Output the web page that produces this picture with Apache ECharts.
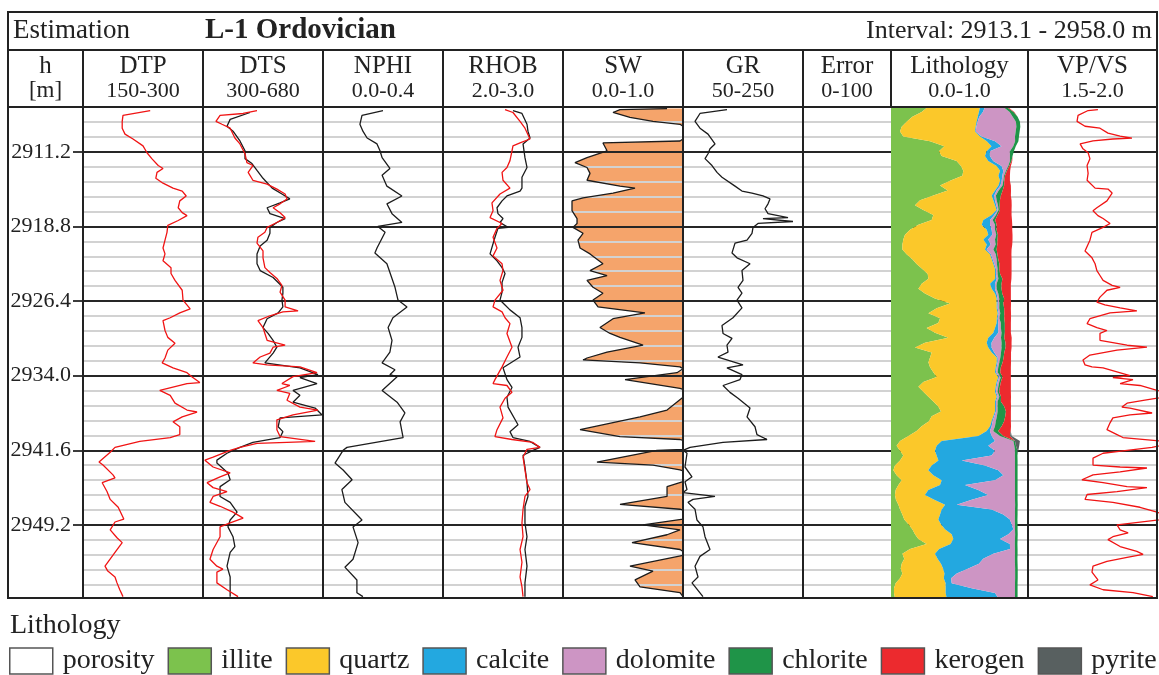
<!DOCTYPE html>
<html><head><meta charset="utf-8">
<script src="https://cdn.jsdelivr.net/npm/echarts@6/dist/echarts.min.js"></script>
<style>html,body{margin:0;padding:0;background:#fff}#c{width:1159px;height:675px}</style>
</head><body><div id="c"></div>
<script>
const FONT = '"Liberation Serif", "DejaVu Serif", serif';
const DEPTH_MIN = 2906.64, DEPTH_MAX = 2956.64, MINOR_STEP = 1.52;
const DEPTH_TICKS = [2911.2, 2918.8, 2926.4, 2934.0, 2941.6, 2949.2];

const DTP_DEPTH = [2907.0,2907.5,2908.1,2908.8,2909.4,2909.9,2910.6,2911.3,2911.9,2912.6,2912.9,2913.3,2913.9,2914.4,2914.9,2915.2,2915.7,2916.2,2916.9,2917.4,2917.7,2918.2,2918.7,2919.4,2920.2,2921.0,2921.6,2922.3,2923.0,2923.6,2924.3,2925.3,2926.3,2927.2,2927.6,2928.1,2928.4,2929.4,2930.1,2930.7,2931.4,2932.2,2932.7,2933.2,2933.7,2934.1,2934.7,2934.8,2935.5,2936.0,2936.8,2937.5,2937.7,2938.2,2938.7,2939.2,2940.0,2940.3,2940.7,2941.3,2941.8,2942.8,2943.1,2944.1,2944.4,2944.9,2945.8,2946.6,2947.4,2948.6,2948.9,2949.7,2950.5,2951.0,2952.0,2953.4,2953.9,2954.5,2955.1,2955.8,2956.5];
const DTP = [234,200,199,199,202.5,212.5,225,230,236,244,250,242.5,241,250,262.5,274,279,271,269,274,280,269,256,255,252.5,250,252.5,250,260,260,265,274,275,284,271,259,250,252.5,256,265,256,252.5,249,262.5,280,286,296,280,246,259,265,280,292.5,274,262.5,271,271,259,221,190,184,170,175,187.5,190,174,180,184,194,201,190,184,192.5,199,190,177.5,181,190,192.5,196,200];

const DTS_RED_DEPTH = [2907.0,2907.3,2907.5,2908.1,2908.4,2908.8,2909.8,2910.4,2911.4,2912.3,2912.6,2913.3,2914.1,2914.5,2915.0,2915.5,2916.0,2916.5,2916.9,2917.4,2917.9,2918.4,2918.9,2919.4,2919.9,2920.5,2921.3,2922.0,2923.0,2923.5,2924.1,2924.8,2925.5,2926.3,2927.0,2927.4,2927.5,2927.9,2928.4,2929.1,2929.7,2930.4,2930.9,2931.1,2931.7,2932.1,2932.7,2932.9,2933.1,2933.7,2934.1,2934.8,2935.0,2935.5,2935.8,2936.5,2937.2,2937.5,2938.0,2938.5,2939.5,2940.2,2940.7,2940.8,2940.9,2941.3,2941.6,2942.3,2942.6,2943.3,2943.9,2944.3,2944.9,2945.4,2945.8,2946.3,2946.9,2947.3,2947.9,2948.5,2949.0,2949.4,2950.4,2951.7,2952.7,2953.4,2953.7,2954.0,2955.1,2955.8,2956.5];
const DTS_RED = [471,427,354,341,360,386,401,417,433,439,458,443,458,503,534,560,566,544,522,544,560,534,503,496,474,471,490,490,496,512,534,550,544,560,560,601,553,512,474,490,496,503,560,522,512,481,458,503,607,661,585,550,575,534,575,566,607,664,585,534,534,544,655,566,471,417,386,332,306,332,386,354,313,332,376,332,322,354,395,427,386,354,354,332,322,344,363,344,344,376,411];
const DTS_BLK_DEPTH = [2907.2,2907.9,2908.6,2909.1,2910.1,2911.1,2911.9,2912.4,2913.1,2913.9,2914.9,2915.5,2916.0,2916.4,2916.9,2917.5,2918.0,2918.4,2918.9,2919.5,2920.2,2920.8,2921.6,2922.6,2923.3,2924.0,2925.0,2925.6,2926.3,2927.0,2927.6,2928.2,2929.1,2929.7,2930.4,2931.1,2931.7,2932.7,2933.2,2933.9,2934.2,2934.8,2935.5,2936.0,2936.7,2937.3,2938.0,2938.3,2939.2,2939.7,2940.3,2940.8,2941.3,2941.9,2942.6,2942.9,2943.9,2944.6,2945.3,2946.3,2946.9,2947.9,2948.7,2949.4,2950.4,2951.4,2952.0,2953.4,2954.5,2955.8,2956.5];
const DTS_BLK = [449,386,376,395,417,433,433,455,471,490,519,550,575,544,503,512,560,534,512,512,503,481,471,471,481,522,553,553,550,553,538,503,490,506,522,534,522,496,607,664,607,661,585,607,585,655,677,544,538,553,544,458,417,376,344,344,379,386,354,354,386,408,386,379,395,401,386,376,386,386,386];

const NPHI_DEPTH = [2907.0,2907.5,2908.4,2909.1,2909.8,2910.4,2911.1,2911.8,2912.9,2913.6,2914.7,2915.7,2916.5,2917.5,2918.4,2918.8,2919.4,2921.0,2921.5,2922.6,2925.0,2926.3,2927.0,2928.1,2929.1,2930.4,2931.6,2932.7,2933.4,2933.9,2934.1,2935.5,2936.7,2937.8,2938.7,2940.3,2941.3,2941.6,2942.9,2943.6,2944.6,2945.6,2946.9,2948.7,2949.4,2951.0,2952.7,2953.5,2954.8,2956.1,2956.5];
const NPHI = [0.200,0.130,0.123,0.133,0.147,0.180,0.190,0.197,0.223,0.197,0.213,0.263,0.213,0.230,0.263,0.183,0.207,0.180,0.173,0.213,0.240,0.250,0.280,0.233,0.217,0.230,0.223,0.197,0.240,0.223,0.247,0.197,0.247,0.273,0.257,0.267,0.080,0.067,0.040,0.067,0.097,0.063,0.073,0.130,0.100,0.117,0.100,0.073,0.113,0.113,0.133];

const RHOB_RED_DEPTH = [2906.9,2907.2,2908.1,2908.8,2909.9,2910.3,2910.6,2911.1,2912.1,2912.8,2913.3,2914.1,2914.9,2915.5,2916.4,2917.2,2917.9,2918.5,2919.0,2919.9,2921.0,2921.8,2922.6,2923.3,2924.3,2925.3,2926.3,2927.0,2927.5,2928.1,2928.7,2929.7,2931.1,2932.1,2933.1,2934.4,2934.8,2935.0,2935.7,2936.3,2937.2,2938.3,2939.5,2940.2,2940.5,2940.8,2941.3,2941.5,2942.3,2943.6,2944.9,2945.6,2946.3,2947.6,2949.0,2950.4,2951.7,2953.0,2954.5,2955.5,2956.5];
const RHOB_RED = [2.517,2.583,2.642,2.683,2.725,2.642,2.583,2.575,2.558,2.533,2.492,2.500,2.558,2.475,2.408,2.417,2.392,2.492,2.450,2.417,2.450,2.417,2.492,2.500,2.475,2.500,2.433,2.417,2.492,2.517,2.558,2.533,2.575,2.533,2.492,2.433,2.417,2.533,2.575,2.517,2.475,2.500,2.450,2.433,2.575,2.750,2.808,2.700,2.667,2.683,2.700,2.725,2.683,2.667,2.658,2.667,2.642,2.658,2.642,2.658,2.667];
const RHOB_BLK_DEPTH = [2907.0,2907.3,2908.4,2909.1,2909.8,2910.4,2911.8,2912.8,2913.8,2914.9,2915.2,2915.7,2916.2,2916.9,2917.5,2918.0,2918.4,2918.9,2919.0,2919.9,2921.6,2922.3,2923.0,2923.6,2924.5,2925.5,2926.3,2926.8,2927.3,2928.1,2929.1,2930.1,2931.1,2932.1,2933.2,2934.4,2935.2,2936.2,2937.2,2939.0,2939.7,2940.3,2940.7,2941.3,2941.6,2942.1,2943.3,2944.9,2946.3,2947.3,2949.0,2950.4,2951.7,2953.4,2955.1,2956.5];
const RHOB_BLK = [2.583,2.658,2.700,2.708,2.725,2.667,2.683,2.700,2.658,2.658,2.642,2.533,2.492,2.450,2.458,2.500,2.475,2.542,2.458,2.433,2.392,2.450,2.492,2.517,2.492,2.492,2.475,2.517,2.558,2.642,2.658,2.658,2.625,2.642,2.500,2.533,2.575,2.533,2.542,2.625,2.558,2.583,2.725,2.808,2.750,2.667,2.683,2.700,2.708,2.683,2.683,2.700,2.683,2.700,2.683,2.683];

const SW_DEPTH = [2906.8,2906.9,2907.2,2907.7,2908.1,2908.4,2908.6,2909.9,2910.1,2910.3,2911.1,2911.8,2912.3,2912.8,2913.4,2914.1,2914.7,2914.9,2915.4,2915.9,2916.2,2917.2,2918.0,2918.5,2918.9,2919.5,2920.2,2921.0,2921.6,2922.6,2923.3,2923.8,2924.3,2925.0,2925.6,2926.3,2927.0,2927.6,2928.2,2929.1,2929.7,2930.1,2930.9,2931.6,2932.2,2932.4,2932.7,2933.1,2933.3,2933.5,2933.7,2934.4,2935.3,2935.4,2936.2,2937.5,2938.2,2939.5,2940.2,2940.5,2940.6,2941.5,2941.6,2942.8,2943.1,2943.6,2943.7,2944.8,2945.3,2946.3,2947.1,2947.6,2947.7,2948.6,2949.2,2949.7,2950.2,2951.0,2951.7,2951.9,2952.3,2953.4,2953.9,2954.8,2955.5,2956.1,2956.5];
const SW = [0.867,0.475,0.417,0.558,0.750,0.975,1.0,1.0,0.975,0.333,0.367,0.200,0.100,0.200,0.225,0.200,0.475,0.600,0.417,0.167,0.075,0.075,0.117,0.117,0.083,0.167,0.125,0.142,0.225,0.333,0.225,0.367,0.200,0.250,0.333,0.250,0.292,0.683,0.417,0.308,0.392,0.475,0.667,0.367,0.200,0.167,0.642,0.975,1.0,1.0,0.950,0.517,0.975,1.0,1.0,0.867,0.642,0.142,0.475,0.975,1.0,1.0,0.783,0.283,0.750,0.975,1.0,1.0,0.867,0.867,0.475,0.975,1.0,1.0,0.667,0.975,0.867,0.575,0.975,1.0,1.0,0.558,0.750,0.600,0.642,0.975,1.0];

const GR_DEPTH = [2906.9,2907.3,2908.1,2908.8,2909.4,2910.4,2910.9,2911.4,2911.9,2912.6,2913.3,2913.8,2914.7,2915.2,2915.4,2915.7,2916.0,2916.5,2917.0,2917.5,2917.9,2918.0,2918.3,2918.5,2918.9,2919.5,2920.2,2920.5,2921.5,2922.0,2922.6,2923.3,2924.3,2925.0,2925.6,2926.3,2927.1,2928.1,2928.9,2929.7,2930.2,2930.9,2931.6,2932.1,2932.9,2933.2,2933.9,2934.4,2935.0,2935.7,2936.3,2937.3,2938.2,2939.2,2940.0,2940.5,2940.8,2941.3,2941.6,2941.9,2943.3,2944.3,2944.8,2945.6,2945.9,2946.3,2946.6,2946.9,2947.6,2948.7,2949.4,2950.4,2951.7,2952.4,2953.4,2954.5,2955.1,2956.5];
const GR = [123.3,78.3,70,78.3,91.7,103.3,95,91.7,86.7,98.3,106.7,115,136.7,148.3,165,183.3,195,191.7,186.7,191.7,225,183.3,233.3,175,166.7,165,156.7,136.7,131.7,140,161.7,148.3,150,141.7,148.3,140,148.3,133.3,115,116.7,131.7,123.3,125,108.3,150,123.3,148.3,145,116.7,128.3,141.7,161.7,156.7,170,173.3,190,116.7,61.7,50,56.7,53.3,65,53.3,56.7,50,103.3,66.7,58.3,70,73.3,83.3,86.7,95,78.3,70,75,65,83.3];

const VPVS_DEPTH = [2906.9,2907.0,2907.5,2908.1,2908.6,2908.8,2909.3,2909.6,2909.8,2909.9,
2910.1,2910.4,2910.9,2911.3,2911.9,2912.6,2913.4,2914.1,2914.9,2915.0,
2915.4,2916.2,2916.9,2917.2,2917.7,2918.0,2918.5,2918.9,2919.4,2920.2,
2921.3,2922.0,2922.6,2923.3,2923.8,2924.3,2924.8,2925.0,2925.3,2926.0,
2926.5,2926.8,2927.1,2927.4,2927.6,2928.2,2928.7,2929.1,2929.4,2929.7,
2930.4,2930.9,2931.1,2931.4,2931.9,2932.4,2932.9,2933.1,2933.2,2934.0,
2934.2,2934.4,2934.8,2935.0,2935.5,2936.0,2936.5,2936.8,2937.2,2937.3,
2937.8,2938.0,2938.3,2938.8,2939.5,2940.0,2940.3,2940.8,2941.3,2941.6,
2941.9,2942.4,2943.1,2943.3,2943.4,2943.8,2944.1,2944.6,2944.9,2945.3,
2945.4,2945.8,2946.1,2946.6,2946.9,2947.4,2947.9,2948.5,2949.2,2949.7,
2950.0,2950.4,2950.7,2951.4,2951.9,2952.2,2952.5,2952.9,2953.4,2954.0,
2954.8,2955.3,2955.5,2955.8,2956.1,2956.5];
const VPVS = [1.771,1.733,1.694,1.690,1.721,1.779,1.810,1.857,1.903,1.829,
1.752,1.702,1.713,1.733,1.740,1.729,1.733,1.729,1.760,1.810,
1.826,1.806,1.767,1.752,1.771,1.791,1.818,1.791,1.748,1.740,
1.721,1.748,1.760,1.767,1.779,1.791,1.826,1.857,1.806,1.779,
1.767,1.798,1.857,1.922,1.818,1.740,1.729,1.767,1.806,1.779,
1.779,1.884,1.961,1.845,1.740,1.713,1.721,1.748,1.791,1.895,
1.829,1.907,1.857,1.934,2.000,2.070,1.953,1.884,1.864,1.895,
1.981,1.895,1.829,1.818,1.806,1.845,1.868,2.070,1.981,1.884,
1.791,1.752,1.752,1.857,1.961,1.857,1.752,1.709,1.791,1.884,
1.961,1.845,1.729,1.721,1.829,1.934,2.000,2.070,1.845,1.857,
1.888,1.829,1.810,1.857,1.922,1.946,1.884,1.806,1.752,1.748,
1.771,1.740,1.733,1.791,1.907,1.984];

// Lithology volume fractions, sampled every 0.5 m from the top of the interval
const LITH_DEPTH = Array.from({length: 101}, (_, k) => +(DEPTH_MIN + 0.5 * k).toFixed(2));
const ILLITE = [0.268,0.224,0.156,0.114,0.078,0.066,0.090,0.285,0.389,0.350,0.370,
0.479,0.511,0.528,0.521,0.431,0.358,0.414,0.309,0.212,0.175,
0.236,0.309,0.297,0.200,0.139,0.102,0.090,0.083,0.083,0.114,
0.156,0.187,0.229,0.268,0.273,0.224,0.200,0.248,0.321,0.431,
0.333,0.273,0.358,0.345,0.260,0.321,0.418,0.248,0.175,0.297,
0.285,0.273,0.285,0.309,0.333,0.236,0.200,0.236,0.273,0.309,
0.345,0.365,0.297,0.277,0.224,0.187,0.127,0.066,0.041,0.066,
0.090,0.066,0.029,0.017,0.041,0.078,0.054,0.034,0.029,0.036,
0.054,0.066,0.083,0.097,0.127,0.156,0.175,0.200,0.260,0.139,
0.083,0.097,0.078,0.071,0.083,0.066,0.034,0.022,0.022,0.029];
const QUARTZ = [0.382,0.418,0.477,0.511,0.540,0.547,0.560,0.414,0.345,0.348,0.316,
0.231,0.260,0.268,0.263,0.365,0.426,0.345,0.426,0.535,0.584,
0.535,0.426,0.377,0.462,0.560,0.608,0.584,0.616,0.603,0.608,
0.579,0.560,0.530,0.491,0.487,0.499,0.535,0.511,0.450,0.341,
0.438,0.506,0.414,0.426,0.499,0.426,0.292,0.450,0.535,0.438,
0.487,0.499,0.479,0.450,0.450,0.535,0.564,0.523,0.499,0.450,
0.414,0.394,0.450,0.457,0.499,0.511,0.511,0.304,0.292,0.255,
0.243,0.280,0.268,0.255,0.268,0.292,0.304,0.238,0.219,0.280,
0.341,0.304,0.275,0.248,0.238,0.238,0.268,0.255,0.175,0.212,
0.238,0.243,0.287,0.309,0.307,0.319,0.365,0.377,0.377,0.377];
const CALCITE = [0.036,0.029,0.012,0.007,0.005,0.005,0.012,0.061,0.073,0.024,0.036,
0.036,0.036,0.024,0.029,0.012,0.015,0.012,0.019,0.012,0.010,
0.007,0.019,0.049,0.061,0.036,0.029,0.036,0.029,0.012,0.007,
0.007,0.007,0.007,0.007,0.012,0.036,0.024,0.012,0.007,0.007,
0.007,0.007,0.007,0.012,0.024,0.036,0.044,0.036,0.024,0.019,
0.007,0.007,0.007,0.007,0.007,0.007,0.007,0.007,0.007,0.007,
0.007,0.007,0.007,0.007,0.012,0.024,0.097,0.389,0.377,0.438,
0.401,0.170,0.389,0.511,0.511,0.389,0.182,0.365,0.462,0.273,
0.085,0.365,0.462,0.523,0.516,0.499,0.414,0.341,0.433,0.518,
0.426,0.333,0.277,0.185,0.090,0.054,0.044,0.190,0.360,0.377];
const DOLOMITE = [0.134,0.195,0.243,0.280,0.292,0.292,0.243,0.146,0.085,0.146,0.146,
0.122,0.049,0.019,0.012,0.012,0.015,0.015,0.012,0.012,0.012,
0.007,0.012,0.019,0.036,0.024,0.029,0.049,0.036,0.049,0.036,
0.029,0.019,0.012,0.012,0.012,0.012,0.012,0.012,0.012,0.012,
0.012,0.012,0.012,0.019,0.019,0.024,0.049,0.073,0.073,0.049,
0.019,0.012,0.012,0.012,0.012,0.012,0.012,0.012,0.012,0.012,
0.012,0.012,0.019,0.024,0.024,0.024,0.061,0.134,0.190,0.146,
0.170,0.389,0.219,0.122,0.085,0.146,0.365,0.268,0.195,0.316,
0.426,0.170,0.085,0.036,0.024,0.012,0.049,0.109,0.036,0.036,
0.158,0.231,0.263,0.341,0.426,0.467,0.462,0.316,0.146,0.122];
const CHLORITE = [0.024,0.029,0.036,0.029,0.029,0.029,0.029,0.024,0.019,0.029,0.019,
0.012,0.007,0.007,0.007,0.007,0.012,0.029,0.036,0.024,0.012,
0.010,0.012,0.019,0.012,0.012,0.012,0.019,0.012,0.024,0.012,
0.012,0.019,0.012,0.019,0.029,0.036,0.036,0.029,0.036,0.029,
0.036,0.029,0.036,0.029,0.029,0.024,0.024,0.029,0.029,0.024,
0.024,0.024,0.019,0.019,0.012,0.012,0.012,0.012,0.012,0.024,
0.049,0.061,0.061,0.061,0.049,0.036,0.024,0.012,0.012,0.019,
0.019,0.019,0.019,0.019,0.019,0.019,0.019,0.019,0.019,0.019,
0.019,0.019,0.019,0.019,0.019,0.019,0.019,0.019,0.019,0.019,
0.019,0.019,0.019,0.019,0.019,0.019,0.019,0.019,0.019,0.019];
const KEROGEN = [0.010,0.005,0,0,0,0,0,0,0,0,0,
0.005,0.012,0.024,0.036,0.041,0.049,0.061,0.073,0.085,0.088,
0.085,0.102,0.122,0.114,0.114,0.107,0.109,0.109,0.109,0.102,
0.097,0.088,0.090,0.083,0.066,0.068,0.068,0.063,0.049,0.056,
0.049,0.049,0.049,0.044,0.044,0.044,0.054,0.044,0.044,0.049,
0.054,0.061,0.073,0.078,0.061,0.073,0.080,0.085,0.073,0.073,
0.049,0.036,0.041,0.049,0.068,0.092,0.049,0,0,0,
0,0,0,0,0,0,0,0,0,0,
0,0,0,0,0,0,0,0,0,0,
0,0,0,0,0,0,0,0,0,0];
const PYRITE = [0,0,0,0,0,0,0,0,0,0,0,
0,0,0,0,0,0,0,0,0,0,
0,0,0,0,0,0,0,0,0,0,
0,0,0,0,0,0,0,0,0,0,
0,0,0,0,0,0,0,0,0,0,
0,0,0,0,0,0,0,0,0,0,
0,0,0,0,0,0,0.012,0.036,0.024,0.005,
0,0,0,0,0,0,0,0,0,0,
0,0,0,0,0,0,0,0,0,0,
0,0,0,0,0,0,0,0,0,0];

const LITH_NAMES = ['porosity','illite','quartz','calcite','dolomite','chlorite','kerogen','pyrite'];
const LITH_COLORS = {porosity:'#ffffff', illite:'#7cc24d', quartz:'#fbc82a', calcite:'#23a8e0', dolomite:'#cd95c4', chlorite:'#1f9448', kerogen:'#ec2a2e', pyrite:'#586060'};
const LITH_VALUES = {illite:ILLITE, quartz:QUARTZ, calcite:CALCITE, dolomite:DOLOMITE, chlorite:CHLORITE, kerogen:KEROGEN, pyrite:PYRITE};

const TRACKS = [
  {name:'DTP', range:'150-300', left:83, width:120, min:150, max:300},
  {name:'DTS', range:'300-680', left:203, width:120, min:300, max:680},
  {name:'NPHI', range:'0.0-0.4', left:323, width:120, min:0, max:0.4},
  {name:'RHOB', range:'2.0-3.0', left:443, width:120, min:2, max:3},
  {name:'SW', range:'0.0-1.0', left:563, width:120, min:0, max:1},
  {name:'GR', range:'50-250', left:683, width:120, min:50, max:250},
  {name:'Error', range:'0-100', left:803, width:88, min:0, max:100},
  {name:'Lithology', range:'0.0-1.0', left:891, width:137, min:0, max:1},
  {name:'VP/VS', range:'1.5-2.0', left:1028, width:129, min:1.5, max:2}
];
const TOP = 107, BOTTOM = 598;
const MINOR = '#d2d2d2', MAJOR = '#262626', INK = '#222';
const RED = '#f01414', BLACK = '#1c1c1c', SW_FILL = '#f5a46b';
// tick 0 is DEPTH_MIN; every 5th tick from index 3 (2911.2) is a labelled depth
const GRID_COLORS = [MINOR, MINOR, MINOR, MAJOR, MINOR];

const grids = TRACKS.map(t => ({left: t.left, top: TOP, width: t.width, height: BOTTOM - TOP}));
const xAxes = TRACKS.map((t, i) => ({type:'value', gridIndex:i, min:t.min, max:t.max, show:false}));
const yAxes = TRACKS.map((t, i) => ({
  type:'value', gridIndex:i, inverse:true, min:DEPTH_MIN, max:DEPTH_MAX, interval:MINOR_STEP,
  axisLine:{show:false}, axisTick:{show:false}, axisLabel:{show:false},
  splitLine:{show:true, lineStyle:{color:GRID_COLORS, width:1.8}},
  z: t.name === 'SW' ? 2 : 0
}));
// depth labels (index 9)
yAxes.push({
  type:'value', gridIndex:0, position:'left', inverse:true, min:DEPTH_MIN, max:DEPTH_MAX,
  axisLine:{show:false},
  axisTick:{show:true, length:10, customValues:DEPTH_TICKS, lineStyle:{color:MAJOR, width:1.8}},
  axisLabel:{show:true, customValues:DEPTH_TICKS, formatter:v => Number(v).toFixed(1), margin:12,
    fontFamily:FONT, fontSize:22, color:INK},
  splitLine:{show:false}
});
// lithology category axis (index 10)
yAxes.push({type:'category', gridIndex:7, inverse:true, boundaryGap:false, data:LITH_DEPTH.map(String), show:false});

function curve(idx, depth, vals, color, name) {
  return {type:'line', name, xAxisIndex:idx, yAxisIndex:idx, data:depth.map((d, i) => [vals[i], d]),
    symbol:'none', showSymbol:false, clip:true, silent:true, z:4,
    lineStyle:{color, width:1.3}, itemStyle:{color}};
}

const series = [];
series.push(curve(0, DTP_DEPTH, DTP, RED, 'DTP'));
series.push(curve(1, DTS_BLK_DEPTH, DTS_BLK, BLACK, 'DTS estimated'));
series.push(curve(1, DTS_RED_DEPTH, DTS_RED, RED, 'DTS'));
series.push(curve(2, NPHI_DEPTH, NPHI, BLACK, 'NPHI'));
series.push(curve(3, RHOB_BLK_DEPTH, RHOB_BLK, BLACK, 'RHOB estimated'));
series.push(curve(3, RHOB_RED_DEPTH, RHOB_RED, RED, 'RHOB'));
series.push({
  type:'custom', name:'SW fill', xAxisIndex:4, yAxisIndex:4, clip:true, silent:true, z:1,
  data:[[0.5, 2930]],
  renderItem: function (params, api) {
    const pts = SW_DEPTH.map((d, i) => api.coord([SW[i], d]));
    pts.push(api.coord([1, SW_DEPTH[SW_DEPTH.length - 1]]));
    pts.push(api.coord([1, SW_DEPTH[0]]));
    return {type:'polygon', shape:{points:pts}, style:{fill:SW_FILL}};
  }
});
series.push(curve(4, SW_DEPTH, SW, BLACK, 'SW'));
series.push(curve(5, GR_DEPTH, GR, BLACK, 'GR'));
series.push(curve(8, VPVS_DEPTH, VPVS, RED, 'VP/VS'));
series.push({type:'line', name:'porosity', xAxisIndex:7, yAxisIndex:10, data:[], symbol:'none',
  itemStyle:{color:LITH_COLORS.porosity}, lineStyle:{color:LITH_COLORS.porosity}});
LITH_NAMES.slice(1).forEach(n => {
  series.push({type:'line', name:n, xAxisIndex:7, yAxisIndex:10, stack:'lith', data:LITH_VALUES[n],
    symbol:'none', showSymbol:false, silent:true, z:2,
    lineStyle:{width:0, color:LITH_COLORS[n]}, itemStyle:{color:LITH_COLORS[n]},
    areaStyle:{color:LITH_COLORS[n], opacity:1}});
});

// table frame and texts
const g = [];
function hline(x1, x2, y) { return {type:'line', z:100, silent:true, shape:{x1, y1:y, x2, y2:y}, style:{stroke:INK, lineWidth:2}}; }
function vline(x, y1, y2) { return {type:'line', z:100, silent:true, shape:{x1:x, y1, x2:x, y2}, style:{stroke:INK, lineWidth:2}}; }
function txt(s, x, y, size, align, bold) {
  return {type:'text', z:101, silent:true, style:{text:s, x, y, font:(bold ? 'bold ' : '') + size + 'px ' + FONT,
    fill:INK, textAlign:align, textVerticalAlign:'middle', align:align, verticalAlign:'middle'}};
}
g.push({type:'rect', z:100, silent:true, shape:{x:8, y:12, width:1149, height:BOTTOM - 12}, style:{fill:'none', stroke:INK, lineWidth:2}});
g.push(hline(8, 1157, 50));
g.push(hline(8, 1157, TOP));
[83,203,323,443,563,683,803,1028].forEach(x => g.push(vline(x, 50, BOTTOM)));
g.push(vline(891, 50, TOP));
g.push(txt('Estimation', 13, 31, 27, 'left'));
g.push(txt('L-1 Ordovician', 205, 31, 29, 'left', true));
g.push(txt('Interval: 2913.1 - 2958.0 m', 1152, 31, 26, 'right'));
g.push(txt('h', 45.5, 66, 25, 'center'));
g.push(txt('[m]', 45.5, 91, 23, 'center'));
TRACKS.forEach(t => {
  g.push(txt(t.name, t.left + t.width / 2, 66, 25, 'center'));
  g.push(txt(t.range, t.left + t.width / 2, 91, 22, 'center'));
});
g.push(txt('Lithology', 10, 626, 28, 'left'));

const chart = echarts.init(document.getElementById('c'), null, {renderer:'canvas'});
chart.setOption({
  animation:false,
  backgroundColor:'#ffffff',
  textStyle:{fontFamily:FONT},
  grid:grids, xAxis:xAxes, yAxis:yAxes, series,
  legend:{
    data:LITH_NAMES, left:9, top:647, padding:0, itemGap:13, itemWidth:43, itemHeight:26,
    icon:'rect', selectedMode:false,
    itemStyle:{borderColor:'#555', borderWidth:1.5},
    textStyle:{fontFamily:FONT, fontSize:28, color:INK, padding:[0,0,0,5]}
  },
  graphic:{elements:g}
});
</script></body></html>
